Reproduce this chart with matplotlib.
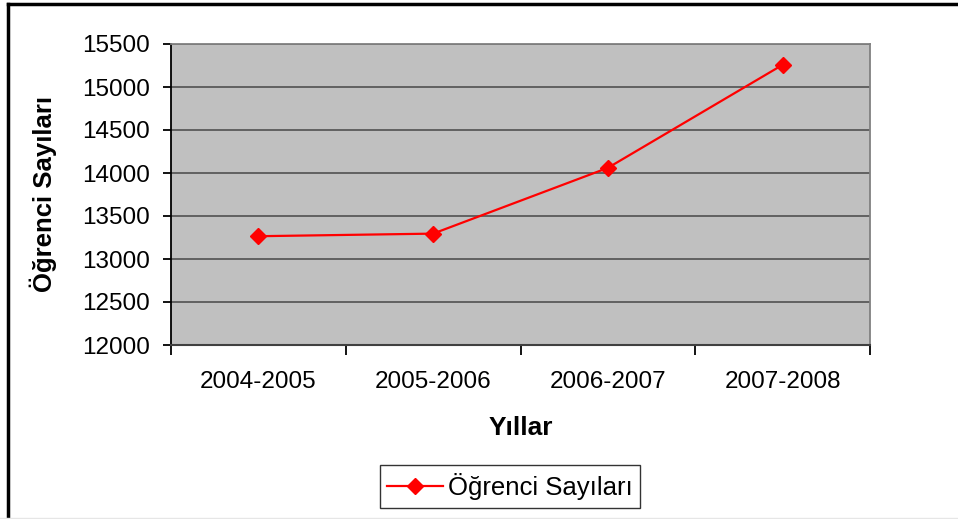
import matplotlib.pyplot as plt
from matplotlib.lines import Line2D

#-data
years = ['2004-2005', '2005-2006', '2006-2007', '2007-2008']
students = [13265, 13295, 14060, 15258]
yticks = list(range(12000, 15501, 500))

plt.rcParams['font.family'] = ['Liberation Sans', 'DejaVu Sans']

fig = plt.figure(figsize=(9.58, 5.19), dpi=100)
ax = fig.add_axes([171/958, 1-345/519, (870-171)/958, (345-44)/519])
ax.set_facecolor('#c0c0c0')

x = range(len(years))
ax.plot(x, students, color='red', lw=1.6, marker='D', ms=8.5, mec='red',
        label='Öğrenci Sayıları', zorder=3)

ax.set_xlim(-0.5, len(years) - 0.5)
ax.set_ylim(12000, 15500)
ax.set_yticks(yticks)
ax.set_yticklabels([str(t) for t in yticks], fontsize=17.5)
ax.yaxis.grid(True, color='#5a5a5a', lw=1.3)
ax.set_axisbelow(True)

#category labels sit between the tick marks
ax.set_xticks([i - 0.5 for i in range(len(years) + 1)])
ax.set_xticklabels([])
ax.set_xticks(list(x), minor=True)
ax.set_xticklabels(years, minor=True, fontsize=17.5)
ax.tick_params(axis='x', which='major', length=7, width=1.3, direction='out')
ax.tick_params(axis='x', which='minor', length=0, pad=19)
ax.tick_params(axis='y', length=6, width=1.3, direction='out', pad=9)

for s in ['top', 'right']:
    ax.spines[s].set_color('#808080')
    ax.spines[s].set_linewidth(1.3)
ax.spines['left'].set_color('black')
ax.spines['left'].set_linewidth(1.3)
ax.spines['bottom'].set_color('#404040')
ax.spines['bottom'].set_linewidth(1.5)

ax.set_xlabel('Yıllar', fontsize=19, fontweight='bold', va='center')
ax.xaxis.set_label_coords(0.5, (345-428)/301)
ax.set_ylabel('Öğrenci Sayıları', fontsize=18.5, fontweight='bold', va='center')
ax.yaxis.set_label_coords((43-171)/699, 0.5)

leg = fig.legend(loc='center', bbox_to_anchor=(510/958, 1-486.5/519), fontsize=18.5,
                 frameon=True, fancybox=False, edgecolor='black', handlelength=2.15,
                 borderpad=0.3, handletextpad=0.2, borderaxespad=0)
leg.get_frame().set_linewidth(1.0)

#outer chart border (left and top visible)
fig.add_artist(Line2D([8/958, 8/958], [0, 1-4/519], color='black', lw=2.5))
fig.add_artist(Line2D([8/958, 1], [1-4/519, 1-4/519], color='black', lw=2.5))
fig.add_artist(Line2D([0, 1], [1/519, 1/519], color='#e6e6e6', lw=1))

fig.savefig('out.png', dpi=100)
